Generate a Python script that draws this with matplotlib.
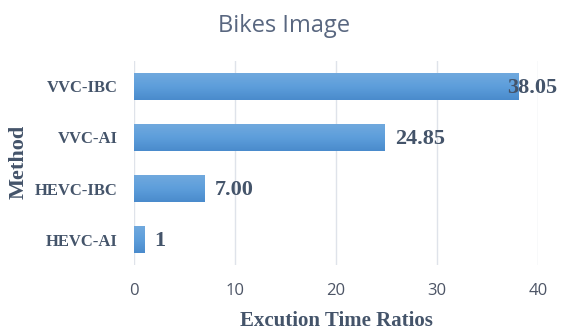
import numpy as np
import matplotlib.pyplot as plt
from matplotlib.colors import LinearSegmentedColormap

metodos = ["HEVC-AI", "HEVC-IBC", "VVC-AI", "VVC-IBC"]
razoes = [1, 7.00, 24.85, 38.05]
rotulos = ["1", "7.00", "24.85", "38.05"]
ticks_x = [0, 10, 20, 30, 40]

cor_texto = "#44546a"
serif = ["Liberation Serif", "DejaVu Serif"]

fig = plt.figure(figsize=(5.61, 3.31), dpi=100)
ax = fig.add_axes([0.239, 0.199, 0.72, 0.617])

barras = ax.barh(metodos, razoes, height=0.52, color="#5b9bd5", zorder=2)

# gradiente vertical em cada barra
grad = LinearSegmentedColormap.from_list("g", ["#4a8bcc", "#5d9edb", "#70a9de"])
img = np.linspace(0, 1, 64).reshape(-1, 1)
for b in barras:
    x0, y0 = b.get_x(), b.get_y()
    ax.imshow(img, cmap=grad, aspect="auto", origin="lower",
              extent=[x0, x0 + b.get_width(), y0, y0 + b.get_height()], zorder=3)
    b.set_alpha(0)

for b, txt, v in zip(barras, rotulos, razoes):
    dx = -8 if v > 35 else 7
    ax.annotate(txt, (b.get_width(), b.get_y() + b.get_height() / 2),
                xytext=(dx, -1), textcoords="offset points", va="center", ha="left",
                fontsize=16, fontweight="bold", color=cor_texto, family=serif, zorder=4)

ax.set_xlim(0, 40)
ax.set_ylim(-0.5, 3.5)
ax.set_xticks(ticks_x)
ax.grid(axis="x", color="#dfe3ea", linewidth=1, zorder=0)
for s in ax.spines.values():
    s.set_visible(False)
ax.tick_params(length=0)
ax.tick_params(axis="x", labelsize=12, labelcolor="#4d5566", pad=13)
ax.tick_params(axis="y", pad=12)
for t in ax.get_xticklabels():
    t.set_family("Open Sans")
for t in ax.get_yticklabels():
    t.set_family(serif)
    t.set_fontweight("bold")
    t.set_fontsize(12)
    t.set_color(cor_texto)

ax.set_xlabel("Excution Time Ratios", fontsize=15, fontweight="bold",
              color=cor_texto, family=serif, va="center")
ax.set_ylabel("Method", fontsize=16, fontweight="bold",
              color=cor_texto, family=serif, va="center")
ax.xaxis.set_label_coords(0.5, -0.275)
ax.yaxis.set_label_coords(-0.285, 0.505)
fig.text(0.507, 0.922, "Bikes Image", ha="center", va="center",
         fontsize=17, color="#596780", family="Open Sans")

fig.savefig("out.png", dpi=100)
